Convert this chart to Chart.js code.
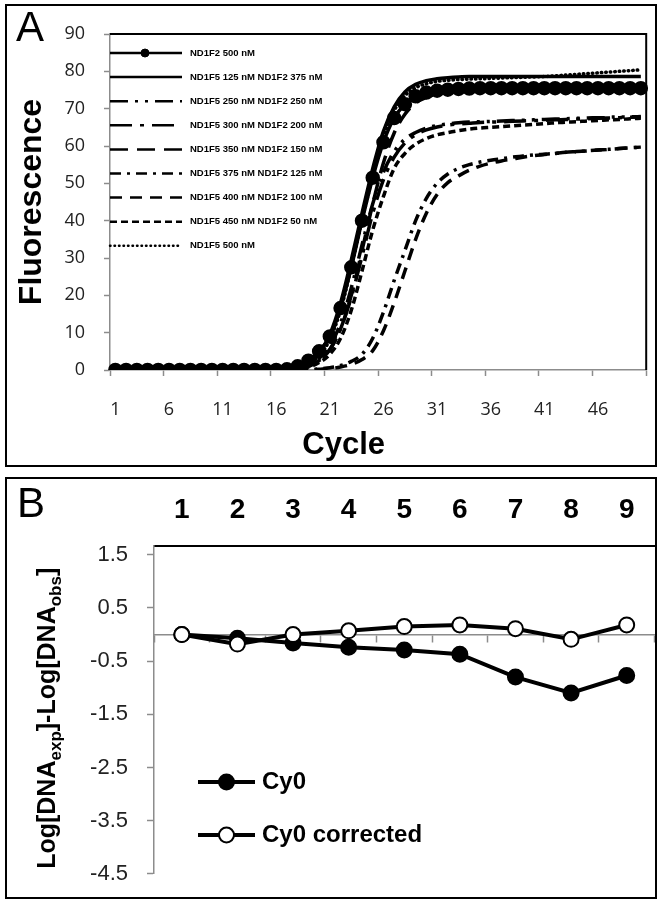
<!DOCTYPE html>
<html lang="en">
<head>
<meta charset="UTF-8">
<title>Primer titration qPCR</title>
<style>
    body {
        margin: 0;
        padding: 0;
        background: #fff;
        font-family: "Liberation Sans", Arial, sans-serif;
    }

    .page {
        position: relative;
        width: 664px;
        height: 906px;
    }

    .chart-box {
        position: absolute;
        left: 0;
        width: 664px;
    }

    .panel {
        position: absolute;
        border: 2px solid #000;
        pointer-events: none;
    }

    #panelA { left: 5px; top: 4px; width: 648px; height: 459px; }
    #panelB { left: 5px; top: 477px; width: 648px; height: 418px; }

    .letter {
        position: absolute;
        font-size: 42px;
        line-height: 1;
        color: #000;
    }
</style>
</head>
<body>
<div class="page">
    <div class="chart-box" style="top:0; height:472px;">
        <canvas id="chartA" width="664" height="472"></canvas>
    </div>
    <div class="chart-box" style="top:474px; height:432px;">
        <canvas id="chartB" width="664" height="432"></canvas>
    </div>
    <div class="panel" id="panelA"></div>
    <div class="panel" id="panelB"></div>
    <div class="letter" style="left:16px; top:6px;">A</div>
    <div class="letter" style="left:17px; top:482px;">B</div>
</div>

<script src="https://cdn.jsdelivr.net/npm/chart.js"></script>
<script>
    // ---- panel A: amplification curves ----
    const cycles = [1, 2, 3, 4, 5, 6, 7, 8, 9, 10, 11, 12, 13, 14, 15, 16, 17, 18, 19, 20,
        21, 22, 23, 24, 25, 26, 27, 28, 29, 30, 31, 32, 33, 34, 35, 36, 37, 38, 39, 40,
        41, 42, 43, 44, 45, 46, 47, 48, 49, 50];

    const f2_500 = [0, 0, 0, 0, 0, 0, 0, 0, 0, 0, 0, 0, 0, 0, 0, 0, 0.2, 1.0, 2.5, 5.0,
        9.0, 16.6, 27.5, 40, 51.5, 61, 67.5, 71.2, 73.3, 74.3, 74.8, 75.1, 75.3, 75.4, 75.5, 75.5, 75.5, 75.5, 75.5, 75.5,
        75.5, 75.5, 75.5, 75.5, 75.5, 75.5, 75.5, 75.5, 75.5, 75.5];
    const f5_125 = [0, 0, 0, 0, 0, 0, 0, 0, 0, 0, 0, 0, 0, 0, 0, 0, 0.2, 0.8, 2.0, 4.5,
        9.5, 18, 29.5, 42, 54, 64, 70.5, 74.5, 76.5, 77.5, 78, 78.3, 78.5, 78.6, 78.6, 78.6, 78.6, 78.6, 78.6, 78.6,
        78.6, 78.6, 78.6, 78.6, 78.6, 78.6, 78.6, 78.6, 78.6, 78.6];
    const f5_250 = [0, 0, 0, 0, 0, 0, 0, 0, 0, 0, 0, 0, 0, 0, 0, 0, 0.1, 0.5, 1.3, 3.0,
        6.5, 12.5, 22, 33.5, 44.5, 53, 58.5, 61.8, 63.6, 64.8, 65.5, 65.9, 66.2, 66.4, 66.5, 66.6, 66.7, 66.8, 66.9, 67.0,
        67.1, 67.2, 67.3, 67.4, 67.5, 67.6, 67.7, 67.8, 67.8, 67.9];
    const f5_300 = [0, 0, 0, 0, 0, 0, 0, 0, 0, 0, 0, 0, 0, 0, 0, 0, 0.1, 0.4, 1.1, 2.6,
        5.5, 11, 19.5, 30.5, 42, 51, 57, 60.8, 63, 64.3, 65.1, 65.6, 65.9, 66.1, 66.3, 66.4, 66.5, 66.6, 66.7, 66.8,
        66.9, 67.0, 67.1, 67.2, 67.3, 67.4, 67.5, 67.6, 67.7, 67.8];
    const f5_350 = [0, 0, 0, 0, 0, 0, 0, 0, 0, 0, 0, 0, 0, 0, 0, 0, 0.1, 0.4, 1.0, 2.5,
        5.5, 11, 20, 32, 44.5, 55.5, 63.5, 68.5, 71.5, 73, 73.9, 74.4, 74.7, 74.9, 75.0, 75.1, 75.2, 75.3, 75.3, 75.3,
        75.3, 75.3, 75.3, 75.3, 75.3, 75.3, 75.3, 75.3, 75.3, 75.3];
    const f5_375 = [0, 0, 0, 0, 0, 0, 0, 0, 0, 0, 0, 0, 0, 0, 0, 0, 0, 0, 0, 0.3,
        0.6, 1.2, 2.3, 4.2, 8.5, 15.5, 24, 32, 40, 46, 50, 52.5, 54, 55, 55.7, 56.2, 56.6, 57.0, 57.3, 57.6,
        57.8, 58.0, 58.3, 58.5, 58.7, 58.9, 59.1, 59.3, 59.5, 59.7];
    const f5_400 = [0, 0, 0, 0, 0, 0, 0, 0, 0, 0, 0, 0, 0, 0, 0, 0, 0, 0, 0, 0.2,
        0.4, 0.8, 1.5, 2.8, 5.2, 10.5, 18, 26.5, 35, 42, 47, 50.2, 52, 53.5, 54.6, 55.4, 56, 56.5, 57, 57.4,
        57.7, 58, 58.3, 58.5, 58.7, 58.9, 59.1, 59.3, 59.5, 59.7];
    const f5_450 = [0, 0, 0, 0, 0, 0, 0, 0, 0, 0, 0, 0, 0, 0, 0, 0, 0.1, 0.3, 0.8, 2.0,
        4.2, 8.5, 16, 26.5, 37.5, 46.5, 54, 58, 60.5, 62, 63, 63.6, 64.1, 64.5, 64.8, 65.0, 65.2, 65.4, 65.6, 65.8,
        66.0, 66.2, 66.4, 66.5, 66.7, 66.8, 67.0, 67.1, 67.3, 67.4];
    const f5_500 = [0, 0, 0, 0, 0, 0, 0, 0, 0, 0, 0, 0, 0, 0, 0, 0, 0.1, 0.6, 1.6, 3.8,
        8.2, 16, 27.5, 40, 52, 62.5, 69.5, 73.5, 75.6, 76.7, 77.3, 77.6, 77.8, 77.9, 78.0, 78.1, 78.2, 78.3, 78.4, 78.5,
        78.6, 78.8, 79.0, 79.2, 79.4, 79.6, 79.8, 80.0, 80.2, 80.4];

    // ---- panel B: log differences ----
    const dilutions = ['1', '2', '3', '4', '5', '6', '7', '8', '9'];
    const cy0 = [0, -0.07, -0.16, -0.24, -0.29, -0.37, -0.8, -1.1, -0.77];
    const cy0Corrected = [0, -0.18, 0.0, 0.07, 0.15, 0.18, 0.11, -0.09, 0.18];
    const yTicksB = [-4.5, -3.5, -2.5, -1.5, -0.5, 0.5, 1.5];

    Chart.defaults.font.family = '"Liberation Sans", Arial, sans-serif';
    Chart.defaults.color = '#000';

    const axisGray = '#8c8c8c';

    // legend drawn inside the plot area
    const insideLegend = {
        id: 'insideLegend',
        afterDatasetsDraw(chart, args, opts) {
            const ctx = chart.ctx;
            ctx.save();
            chart.data.datasets.forEach((ds, i) => {
                const y = opts.y0 + i * opts.step;
                ctx.strokeStyle = '#000';
                ctx.lineWidth = opts.lineWidth;
                ctx.lineCap = ds.borderCapStyle || 'butt';
                ctx.setLineDash(ds.borderDash || []);
                ctx.beginPath();
                ctx.moveTo(opts.x0, y);
                ctx.lineTo(opts.x1, y);
                ctx.stroke();
                ctx.setLineDash([]);
                ctx.lineCap = 'butt';
                if (ds.pointRadius > 0) {
                    ctx.beginPath();
                    ctx.arc(opts.markX, y, opts.markR, 0, Math.PI * 2);
                    ctx.fillStyle = ds.pointBackgroundColor;
                    ctx.fill();
                    ctx.lineWidth = ds.pointBorderWidth || 1;
                    ctx.stroke();
                }
                ctx.fillStyle = '#000';
                ctx.font = opts.font;
                ctx.textAlign = 'left';
                ctx.textBaseline = 'middle';
                ctx.fillText(ds.label, opts.textX, y);
            });
            ctx.restore();
        }
    };

    // black top/right frame of the plot area in panel A
    const plotFrame = {
        id: 'plotFrame',
        afterDraw(chart) {
            const {ctx, chartArea} = chart;
            ctx.save();
            ctx.strokeStyle = '#000';
            ctx.lineWidth = 2;
            ctx.beginPath();
            ctx.moveTo(chartArea.left, chartArea.top);
            ctx.lineTo(chartArea.right, chartArea.top);
            ctx.lineTo(chartArea.right, chartArea.bottom);
            ctx.stroke();
            ctx.restore();
        }
    };

    // y title of panel B with subscripts
    const subscriptTitle = {
        id: 'subscriptTitle',
        afterDraw(chart) {
            const ctx = chart.ctx;
            const ys = chart.scales.y;
            const parts = [['Log[DNA', false], ['exp', true], [']-Log[DNA', false], ['obs', true], [']', false]];
            const big = 'bold 25px "Liberation Sans", Arial, sans-serif';
            const small = 'bold 17px "Liberation Sans", Arial, sans-serif';
            ctx.save();
            let total = 0;
            parts.forEach(p => {
                ctx.font = p[1] ? small : big;
                total += ctx.measureText(p[0]).width;
            });
            const cy = (ys.getPixelForValue(1.5) + ys.getPixelForValue(-4.5)) / 2 + 4;
            ctx.translate(55, cy);
            ctx.rotate(-Math.PI / 2);
            ctx.fillStyle = '#000';
            ctx.textBaseline = 'alphabetic';
            ctx.textAlign = 'left';
            let x = -total / 2;
            parts.forEach(p => {
                ctx.font = p[1] ? small : big;
                ctx.fillText(p[0], x, p[1] ? 6 : 0);
                x += ctx.measureText(p[0]).width;
            });
            ctx.restore();
        }
    };

    function lineSet(label, data, dash) {
        return {
            label: label,
            data: data,
            borderColor: '#000',
            borderWidth: 3.5,
            borderDash: dash,
            pointRadius: 0,
            fill: false,
            cubicInterpolationMode: 'monotone'
        };
    }

    const circleSet = lineSet('ND1F2 500 nM', f2_500, []);
    circleSet.pointRadius = 5.5;
    circleSet.pointBackgroundColor = '#000';
    circleSet.pointBorderColor = '#000';

    const dotSet = lineSet('ND1F5 500 nM', f5_500, [0.5, 4]);
    dotSet.borderCapStyle = 'round';

    new Chart(document.getElementById('chartA'), {
        type: 'line',
        data: {
            labels: cycles,
            datasets: [
                circleSet,
                lineSet('ND1F5 125 nM ND1F2 375 nM', f5_125, []),
                lineSet('ND1F5 250 nM ND1F2 250 nM', f5_250, [18, 7, 3, 7, 3, 7]),
                lineSet('ND1F5 300 nM ND1F2 200 nM', f5_300, [22, 8, 4, 8]),
                lineSet('ND1F5 350 nM ND1F2 150 nM', f5_350, [18, 9]),
                lineSet('ND1F5 375 nM ND1F2 125 nM', f5_375, [11, 6, 3, 6]),
                lineSet('ND1F5 400 nM ND1F2 100 nM', f5_400, [12, 8]),
                lineSet('ND1F5 450 nM ND1F2 50 nM', f5_450, [7, 4]),
                dotSet
            ]
        },
        plugins: [insideLegend, plotFrame],
        options: {
            responsive: false,
            animation: false,
            layout: {padding: {top: 34, right: 16, bottom: 0, left: 0}},
            plugins: {
                legend: {display: false},
                tooltip: {enabled: false},
                insideLegend: {
                    x0: 110, x1: 182, markX: 145, markR: 4, textX: 190,
                    y0: 53, step: 24.1, lineWidth: 2.5,
                    font: 'bold 9.5px "Liberation Sans", Arial, sans-serif'
                }
            },
            scales: {
                x: {
                    offset: true,
                    grid: {
                        offset: true,
                        drawOnChartArea: false,
                        tickLength: 6,
                        tickWidth: 1.5,
                        tickColor: c => (c.index === undefined || c.index % 5 === 0) ? axisGray : 'rgba(0,0,0,0)'
                    },
                    border: {color: axisGray, width: 1.5},
                    ticks: {
                        autoSkip: false,
                        maxRotation: 0,
                        padding: 23,
                        color: '#222',
                        font: {family: '"Open Sans", sans-serif', size: 18},
                        callback: function (value, index) {
                            return index % 5 === 0 ? this.getLabelForValue(value) : '';
                        }
                    },
                    title: {
                        display: true,
                        text: 'Cycle        ',
                        font: {size: 31, weight: 'bold'},
                        padding: {top: 0, bottom: 8}
                    },
                    afterFit(scale) { scale.height = 102; }
                },
                y: {
                    min: 0,
                    max: 90,
                    grid: {drawOnChartArea: false, tickLength: 6, tickWidth: 1.5, tickColor: axisGray},
                    border: {color: axisGray, width: 1.5},
                    ticks: {
                        stepSize: 10,
                        padding: 19,
                        color: '#222',
                        font: {family: '"Open Sans", sans-serif', size: 18}
                    },
                    title: {
                        display: true,
                        text: 'Fluorescence',
                        font: {size: 32, weight: 'bold'},
                        padding: {top: 13, bottom: 0}
                    },
                    afterFit(scale) { scale.width = 110; }
                }
            }
        }
    });

    new Chart(document.getElementById('chartB'), {
        type: 'line',
        data: {
            labels: dilutions,
            datasets: [
                {
                    label: 'Cy0',
                    data: cy0,
                    borderColor: '#000',
                    borderWidth: 4,
                    pointRadius: 7.5,
                    pointBackgroundColor: '#000',
                    pointBorderColor: '#000',
                    pointBorderWidth: 2,
                    order: 1
                },
                {
                    label: 'Cy0 corrected',
                    data: cy0Corrected,
                    borderColor: '#000',
                    borderWidth: 4,
                    pointRadius: 7.5,
                    pointBackgroundColor: '#fff',
                    pointBorderColor: '#000',
                    pointBorderWidth: 2,
                    order: 0
                }
            ]
        },
        plugins: [insideLegend, subscriptTitle],
        options: {
            responsive: false,
            animation: false,
            layout: {padding: {top: 0, right: 7, bottom: 23, left: 0}},
            plugins: {
                legend: {display: false},
                tooltip: {enabled: false},
                insideLegend: {
                    x0: 198, x1: 255, markX: 226.5, markR: 7.5, textX: 262,
                    y0: 308, step: 53, lineWidth: 4,
                    font: 'bold 24px "Liberation Sans", Arial, sans-serif'
                }
            },
            scales: {
                x: {
                    position: 'top',
                    offset: true,
                    grid: {offset: true, drawOnChartArea: false, drawTicks: false},
                    border: {color: '#000', width: 2},
                    ticks: {padding: 19, color: '#000', font: {size: 28, weight: 'bold'}},
                    afterFit(scale) { scale.height = 72; }
                },
                x2: {
                    type: 'category',
                    position: {y: 0},
                    offset: true,
                    grid: {offset: true, drawOnChartArea: false, tickLength: 7, tickWidth: 1.5, tickColor: axisGray},
                    border: {color: axisGray, width: 1.5},
                    ticks: {display: false}
                },
                y: {
                    min: -4.5,
                    max: 1.665,
                    afterBuildTicks(scale) {
                        scale.ticks = yTicksB.map(v => ({value: v}));
                    },
                    grid: {drawOnChartArea: false, tickLength: 7, tickWidth: 1.5, tickColor: axisGray},
                    border: {color: axisGray, width: 1.5},
                    ticks: {
                        padding: 19,
                        color: '#222',
                        font: {size: 22},
                        callback: v => v.toFixed(1)
                    },
                    afterFit(scale) { scale.width = 154; }
                }
            }
        }
    });
</script>
</body>
</html>
